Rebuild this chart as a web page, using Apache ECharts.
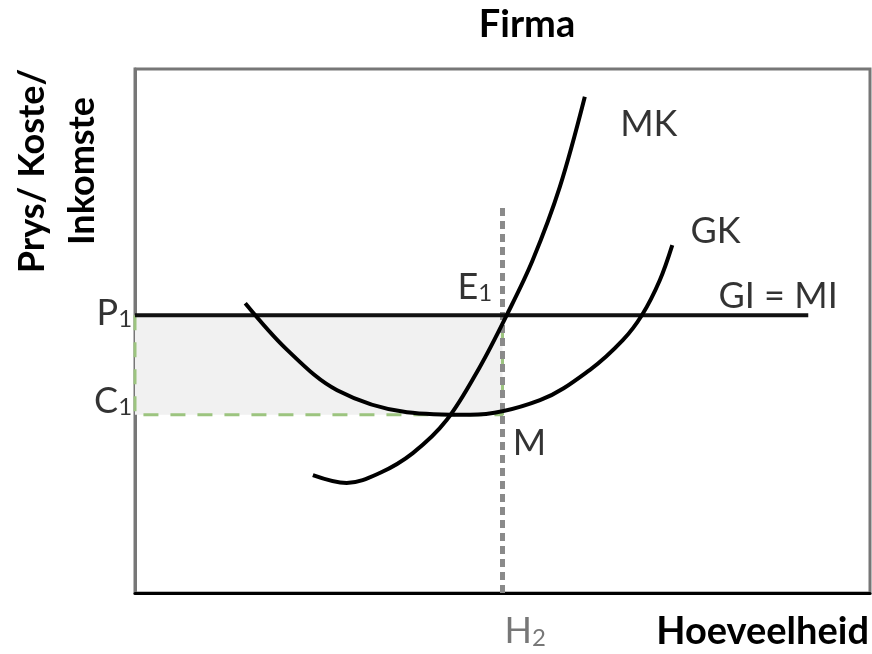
<!DOCTYPE html>
<html>
<head>
<meta charset="utf-8">
<title>Firma</title>
<script src="https://cdn.jsdelivr.net/npm/echarts@6/dist/echarts.min.js"></script>
<style>
html, body { margin: 0; padding: 0; background: #fff; }
#main { width: 872px; height: 654px; }
</style>
</head>
<body>
<div id="main"></div>
<script>
// price P1 and cost C1 levels
var P1 = 53;
var C1 = 34;
// quantity H2
var H2 = 50;
// where the GI = MI line stops
var P1_END = 91.6;
// top of the dotted H2 line
var H2_TOP = 73.5;

// GK curve [quantity, cost]
var gkCurve = [
	[15.0, 55.3], [20.7, 46.4], [27.5, 38.7], [37.0, 34.5], [45.6, 34.0],
	[55.1, 36.8], [61.9, 42.6], [66.4, 48.3], [69.0, 53.1], [71.4, 59.7],
	[73.1, 66.4]
];

// MK curve [quantity, cost]
var mkCurve = [
	[24.2, 22.5], [28.8, 21.0], [33.3, 22.9], [37.8, 26.7], [42.4, 33.0],
	[46.9, 43.1], [50.6, 53.1], [54.1, 63.5], [57.8, 77.5], [61.2, 94.7]
];

// text labels in the chart
var labelText = ['P', 'C', 'E', 'M', 'MK', 'GK', 'GI = MI', 'H'];
var labelSub = ['1', '1', '1', '', '', '', '', '2'];
var labelX = [-0.4, -0.4, 48.6, 51.4, 69.9, 79.0, 87.5, 53.1];
var labelY = [53.4, 36.6, 58.4, 28.6, 89.5, 69.1, 56.7, -7.4];
var labelAlign = ['right', 'right', 'right', 'left', 'center', 'center', 'center', 'center'];

var FONT = 'Lato, "Open Sans", sans-serif';

var myChart = echarts.init(document.getElementById('main'));

var labelData = labelText.map(function(t, i) {
	var sub = labelSub[i];
	var color = i === 7 ? '#555' : '#000';
	return {
		value: [labelX[i], labelY[i]],
		label: {
			show: true,
			position: 'inside',
			align: labelAlign[i],
			verticalAlign: 'middle',
			formatter: sub ? '{b|' + t + '}{s|' + sub + '}' : '{b|' + t + '}',
			rich: {
				b: { fontFamily: FONT, fontSize: 36, lineHeight: 36, color: color },
				s: {
					fontFamily: FONT, fontSize: 24, lineHeight: 24,
					verticalAlign: 'bottom', color: color
				}
			}
		}
	};
});

var option = {
	animation: false,
	backgroundColor: '#fff',
	grid: {
		left: 135, right: 2, top: 69, bottom: 61,
		show: true,
		borderColor: '#777',
		borderWidth: 3
	},
	xAxis: {
		type: 'value', min: 0, max: 100,
		axisLine: { show: true, lineStyle: { color: '#000', width: 3 } },
		axisTick: { show: false },
		axisLabel: { show: false },
		splitLine: { show: false }
	},
	yAxis: {
		type: 'value', min: 0, max: 100,
		axisLine: { show: true, lineStyle: { color: '#777', width: 3 } },
		axisTick: { show: false },
		axisLabel: { show: false },
		splitLine: { show: false }
	},
	graphic: [
		{
			type: 'text', x: 527, y: 25,
			style: {
				text: 'Firma', font: 'bold 38px ' + FONT, fill: '#000',
				textAlign: 'center', textVerticalAlign: 'middle'
			}
		},
		{
			type: 'text', x: 869, y: 632,
			style: {
				text: 'Hoeveelheid', font: 'bold 38px ' + FONT, fill: '#000',
				textAlign: 'right', textVerticalAlign: 'middle'
			}
		},
		{
			type: 'text', x: 57, y: 171, rotation: Math.PI / 2,
			style: {
				text: 'Prys/ Koste/\nInkomste', font: 'bold 36px ' + FONT, fill: '#000',
				lineHeight: 50, textAlign: 'center', textVerticalAlign: 'middle'
			}
		}
	],
	series: [
		{
			// profit area plus green dashed guides
			type: 'line',
			data: [[0, P1], [0, C1], [H2, C1], [H2, P1]],
			symbol: 'none', clip: false,
			lineStyle: { color: '#9cc47f', width: 3, type: [15, 12] },
			markArea: {
				silent: true,
				itemStyle: { color: '#f1f1f1' },
				data: [[{ coord: [0, C1] }, { coord: [H2, P1] }]]
			},
			z: 2
		},
		{
			// dotted H2 line
			type: 'line',
			data: [[H2, 0], [H2, H2_TOP]],
			symbol: 'none', clip: false,
			lineStyle: { color: '#8a8a8a', width: 5, type: [8, 5] },
			z: 3
		},
		{
			// GI = MI
			type: 'line',
			data: [[0, P1], [P1_END, P1]],
			symbol: 'none', clip: false,
			lineStyle: { color: '#111', width: 4 },
			z: 4
		},
		{
			type: 'line', name: 'GK',
			data: gkCurve, smooth: 0.35,
			symbol: 'none',
			lineStyle: { color: '#000', width: 4 },
			z: 5
		},
		{
			type: 'line', name: 'MK',
			data: mkCurve, smooth: 0.35,
			symbol: 'none',
			lineStyle: { color: '#000', width: 4 },
			z: 5
		},
		{
			type: 'scatter',
			data: labelData,
			symbolSize: 1,
			itemStyle: { color: 'rgba(0,0,0,0)' },
			clip: false, silent: true,
			z: 6
		}
	]
};

myChart.setOption(option);
</script>
</body>
</html>
